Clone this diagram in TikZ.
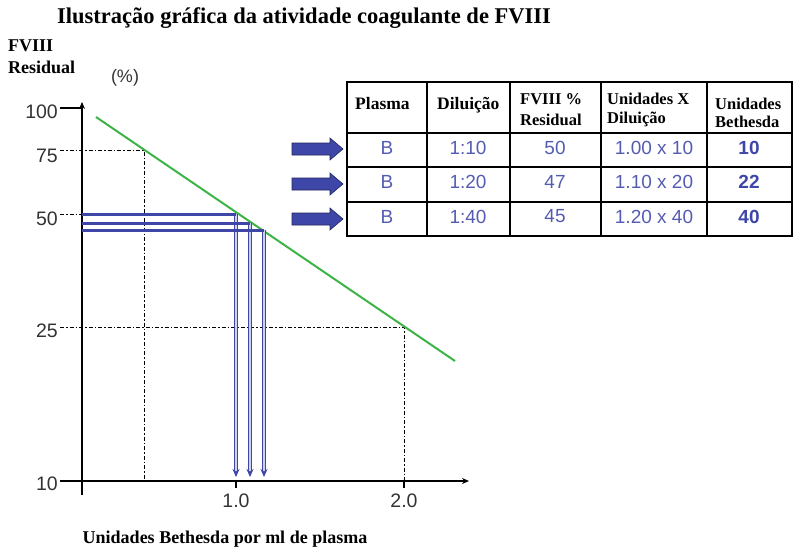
\documentclass[tikz,border=0pt]{standalone}
\usepackage{fontspec}
\setmainfont{Liberation Serif}
\newfontfamily\asans{Liberation Sans}
\usetikzlibrary{arrows.meta}
\definecolor{bl}{RGB}{62,70,168}
\definecolor{blt}{RGB}{84,92,178}
\definecolor{gr}{RGB}{60,180,70}
\tikzset{
  lbl/.style={font=\bfseries\fontsize{18}{18}\selectfont, inner sep=0pt},
  ticklbl/.style={font=\asans\fontsize{19.5}{19.5}\selectfont, text=black!80, inner sep=0pt},
  axis/.style={line width=1.4pt, black},
  guide/.style={line width=0.9pt, dash pattern=on 4pt off 2pt on 1.5pt off 2pt},
  hline/.style={line width=3pt, bl},
  vline/.style={draw=bl, double=bl!25, double distance=1.2pt, line width=1.1pt, -{Stealth[length=8pt,width=7pt]}},
  hdr/.style={font=\bfseries\fontsize{17.5}{18}\selectfont, inner sep=0pt, anchor=base west},
  hdrs/.style={hdr, font=\bfseries\fontsize{16.5}{18}\selectfont},
  cell/.style={font=\asans\fontsize{19}{19}\selectfont, text=blt, inner sep=0pt},
  bcell/.style={cell, font=\asans\bfseries\fontsize{19}{19}\selectfont, text=bl},
  barrow/.style={fill=bl, draw=bl!55!black, line width=0.6pt, line join=miter}
}
\begin{document}
\begin{tikzpicture}[x=1pt,y=-1pt]
\useasboundingbox (0,0) rectangle (794,551);
% title and axis titles
\node[lbl, font=\bfseries\fontsize{22.5}{23}\selectfont, anchor=base] (title) at (304,24) {Ilustração gráfica da atividade coagulante de FVIII};
\node[lbl, anchor=base west] (ylab1) at (8,52) {FVIII};
\node[lbl, anchor=base west] (ylab2) at (8,73) {Residual};
\node[ticklbl, font=\asans\fontsize{18}{18}\selectfont] (pct) at (125,78) {(\%)};
\node[lbl, anchor=base] (xlab) at (225,543) {Unidades Bethesda por ml de plasma};

% axes
\coordinate (O) at (82,481);
\coordinate (ytop) at (82,102);
\coordinate (ybot) at (82,495);
\coordinate (xleft) at (60,481);
\coordinate (xright) at (469,481);
\draw[axis, -{Stealth[length=7pt,width=6pt]}] (ybot) -- (ytop);
\draw[axis, -{Stealth[length=7pt,width=6pt]}] (xleft) -- (xright);
% ticks
\coordinate (t100a) at (60,108); \coordinate (t100b) at (82,108);
\draw[axis] (t100a) -- (t100b);
\coordinate (x1) at (236,481); \coordinate (x1b) at (236,488);
\coordinate (x2) at (404,481); \coordinate (x2b) at (404,488);
\draw[axis] (x1) -- (x1b);
\draw[axis] (x2) -- (x2b);
% tick labels
\node[ticklbl, anchor=east] (l100) at (58,112) {100};
\node[ticklbl, anchor=east] (l75) at (58,156) {75};
\node[ticklbl, anchor=east] (l50) at (58,219) {50};
\node[ticklbl, anchor=east] (l25) at (58,331) {25};
\node[ticklbl, anchor=east] (l10) at (58,484) {10};
\node[ticklbl] (lx1) at (236,501) {1.0};
\node[ticklbl] (lx2) at (404,501) {2.0};

% guide lines
\coordinate (g75a) at (60,150); \coordinate (g75b) at (144,150); \coordinate (g75c) at (144,481);
\coordinate (g25a) at (60,327); \coordinate (g25b) at (404,327); \coordinate (g25c) at (404,481);
\coordinate (g50a) at (60,214); \coordinate (g50b) at (82,214);
\draw[guide] (g75a) -- (g75b) -- (g75c);
\draw[guide] (g25a) -- (g25b) -- (g25c);
\draw[guide] (g50a) -- (g50b);

% green line
\coordinate (ga) at (96,117);
\coordinate (gb) at (455,361);
\draw[gr, line width=2pt] (ga) -- (gb);

% blue lines
\coordinate (h1) at (82,214); \coordinate (c1) at (236,214); \coordinate (e1) at (236,477);
\coordinate (h2) at (82,223); \coordinate (c2) at (250,223); \coordinate (e2) at (250,477);
\coordinate (h3) at (82,230); \coordinate (c3) at (264,230); \coordinate (e3) at (264,477);
\draw[vline] (c1) -- (e1);
\draw[vline] (c2) -- (e2);
\draw[vline] (c3) -- (e3);
\draw[hline] (h1) -- (c1);
\draw[hline] (h2) -- (c2);
\draw[hline] (h3) -- (c3);

% block arrows
\foreach \nm/\yy in {a1/149, a2/184, a3/219}{
  \coordinate (\nm) at (292,\yy);
  \draw[barrow] (\nm) ++(0,-6) -- ++(38,0) -- ++(0,-5) -- ++(13,11) -- ++(-13,11) -- ++(0,-5) -- ++(-38,0) -- cycle;
}

% table
\coordinate (tl) at (347,82);
\coordinate (br) at (792,236);
\foreach \xx in {427,510,601,707} \draw[line width=1.2pt] (\xx,82) -- (\xx,236);
\foreach \yy in {133,167,202} \draw[line width=1.2pt] (347,\yy) -- (792,\yy);
\draw[line width=2.4pt] (tl) rectangle (br);

\node[hdr] (hp) at (355,109.5) {Plasma};
\node[hdr] (hd) at (437,109.5) {Diluição};
\node[hdrs] (hf1) at (520,104) {FVIII \%};
\node[hdrs] (hf2) at (520,125) {Residual};
\node[hdrs] (hu1) at (607,104) {Unidades X};
\node[hdrs] (hu2) at (607,123) {Diluição};
\node[hdrs] (hb1) at (715,109) {Unidades};
\node[hdrs] (hb2) at (715,127) {Bethesda};

\node[cell] (r1c1) at (387,147.5) {B};
\node[cell] (r1c2) at (468,147.5) {1:10};
\node[cell] (r1c3) at (555,147.5) {50};
\node[cell] (r1c4) at (654,147.5) {1.00 x 10};
\node[bcell] (r1c5) at (749,147.5) {10};
\node[cell] (r2c1) at (387,182) {B};
\node[cell] (r2c2) at (468,182) {1:20};
\node[cell] (r2c3) at (555,182) {47};
\node[cell] (r2c4) at (654,182) {1.10 x 20};
\node[bcell] (r2c5) at (749,182) {22};
\node[cell] (r3c1) at (387,216.5) {B};
\node[cell] (r3c2) at (468,216.5) {1:40};
\node[cell] (r3c3) at (555,216.5) {45};
\node[cell] (r3c4) at (654,216.5) {1.20 x 40};
\node[bcell] (r3c5) at (749,216.5) {40};
\end{tikzpicture}
\end{document}
